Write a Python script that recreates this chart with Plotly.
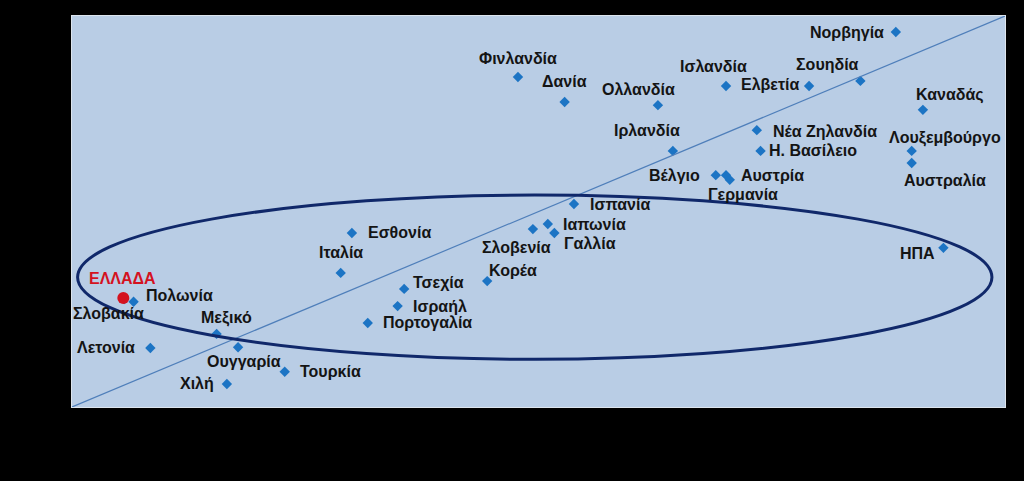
import plotly.graph_objects as go

# ---- data ----
countries = ["Πολωνία", "Σλοβακία", "Λετονία", "Μεξικό", "Ουγγαρία", "Χιλή", "Τουρκία",
             "Ιταλία", "Εσθονία", "Τσεχία", "Ισραήλ", "Πορτογαλία", "Κορέα", "Σλοβενία",
             "Ιαπωνία", "Γαλλία", "Ισπανία", "Ιρλανδία", "Φινλανδία", "Δανία", "Ολλανδία",
             "Ισλανδία", "Ελβετία", "Σουηδία", "Νορβηγία", "Καναδάς", "Νέα Ζηλανδία",
             "Η. Βασίλειο", "Λουξεμβούργο", "Αυστραλία", "Βέλγιο", "Αυστρία", "Γερμανία", "ΗΠΑ"]
x_vals = [6.6, 5.6, 8.4, 15.5, 17.8, 16.6, 22.8,
          28.8, 30.0, 35.6, 34.9, 31.7, 44.5, 49.4,
          51.0, 51.7, 53.8, 64.4, 47.8, 52.8, 62.8,
          70.1, 79.0, 84.5, 88.3, 91.2, 73.4,
          73.8, 90.0, 90.0, 69.0, 70.1, 70.5, 93.4]
y_vals = [26.9, 27.6, 15.1, 18.7, 15.3, 5.9, 9.0,
          34.3, 44.5, 30.2, 25.8, 21.5, 32.2, 45.5,
          46.8, 44.5, 51.9, 65.5, 84.4, 78.0, 77.2,
          82.1, 82.1, 83.4, 95.9, 76.0, 70.8,
          65.5, 65.5, 62.4, 59.3, 59.3, 58.1, 40.7]

greece_label = "ΕΛΛΑΔΑ"
greece_x = [5.5]
greece_y = [27.9]

# label offsets in pixels (dx right, dy down) -- layout only
label_offsets = {
    "Πολωνία": (46, -6), "Σλοβακία": (-16, 14), "Λετονία": (-44, 0), "Μεξικό": (10, -16),
    "Ουγγαρία": (6, 14), "Χιλή": (-30, 0), "Τουρκία": (46, 0), "Ιταλία": (0, -20),
    "Εσθονία": (48, -1), "Τσεχία": (34, -6), "Ισραήλ": (42, 0), "Πορτογαλία": (60, 0),
    "Κορέα": (26, -11), "Σλοβενία": (-16, 18), "Ιαπωνία": (47, 0), "Γαλλία": (36, 10),
    "Ισπανία": (46, 0), "Ιρλανδία": (-26, -20), "Φινλανδία": (0, -19), "Δανία": (0, -21),
    "Ολλανδία": (-19, -16), "Ισλανδία": (-13, -19), "Ελβετία": (-39, -1), "Σουηδία": (-33, -16),
    "Νορβηγία": (-49, 0), "Καναδάς": (27, -15), "Νέα Ζηλανδία": (68, 1), "Η. Βασίλειο": (52, 0),
    "Λουξεμβούργο": (33, -13), "Αυστραλία": (33, 17), "Βέλγιο": (-41, 0), "Αυστρία": (46, 0),
    "Γερμανία": (13, 15), "ΗΠΑ": (-26, 6),
}

FONT = "Liberation Sans, Arial, sans-serif"

fig = go.Figure()
fig.add_trace(go.Scatter(
    x=x_vals, y=y_vals, mode="markers",
    marker=dict(symbol="diamond", size=8, color="#1c74c4"),
    hoverinfo="text", text=countries, showlegend=False))
fig.add_trace(go.Scatter(
    x=greece_x, y=greece_y, mode="markers",
    marker=dict(symbol="circle", size=12, color="#d4121f"),
    hoverinfo="text", text=[greece_label], showlegend=False))

annotations = []
for c, xv, yv in zip(countries, x_vals, y_vals):
    dx, dy = label_offsets[c]
    annotations.append(dict(x=xv, y=yv, text="<b>%s</b>" % c, showarrow=False,
                            xshift=dx, yshift=-dy,
                            font=dict(family=FONT, size=16, color="#141414")))
annotations.append(dict(x=greece_x[0], y=greece_y[0], text="<b>%s</b>" % greece_label,
                        showarrow=False, xshift=-1, yshift=19,
                        font=dict(family=FONT, size=16, color="#d4121f")))

shapes = [
    dict(type="line", xref="x", yref="y", x0=0, y0=0, x1=100, y1=100,
         line=dict(color="#4f7fba", width=1.2)),
    dict(type="circle", xref="x", yref="y", x0=0.6, x1=98.6, y0=12.2, y1=54.2,
         line=dict(color="#10286a", width=3)),
]

fig.update_layout(
    width=1024, height=481,
    paper_bgcolor="#000000", plot_bgcolor="#b9cde5",
    margin=dict(l=72, r=19, t=16, b=74),
    annotations=annotations, shapes=shapes,
    xaxis=dict(range=[0, 100], showgrid=False, zeroline=False, showticklabels=False,
               showline=True, linecolor="#dde5ee", linewidth=1, mirror=True),
    yaxis=dict(range=[0, 100], showgrid=False, zeroline=False, showticklabels=False,
               showline=True, linecolor="#dde5ee", linewidth=1, mirror=True),
    font=dict(family=FONT),
)

fig.write_html("out.html", config={"displayModeBar": False},
               post_script="document.body.style.margin='0';document.body.style.background='#000';")
